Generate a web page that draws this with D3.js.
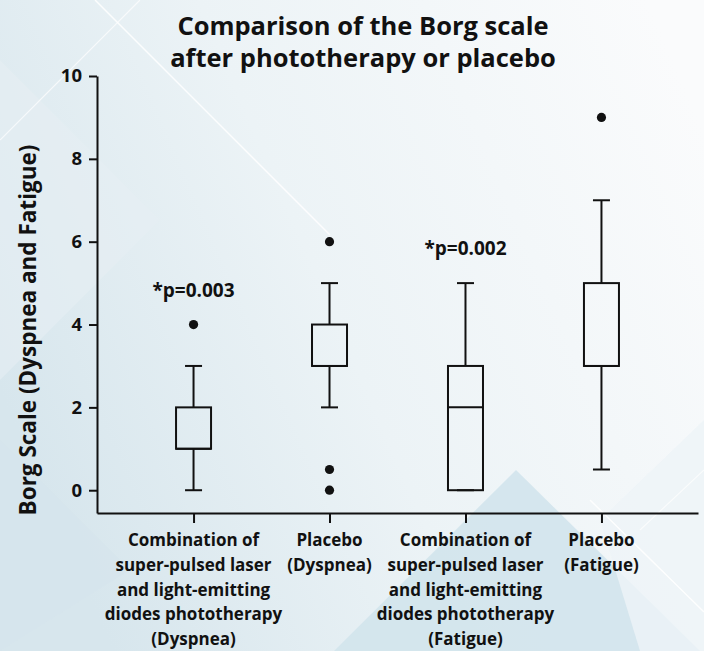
<!DOCTYPE html>
<html>
<head>
<meta charset="utf-8">
<script src="https://cdn.jsdelivr.net/npm/d3@7"></script>
<style>
  html, body { margin: 0; padding: 0; background: #f4f8fa; }
  svg { display: block; }
  text { font-family: "Open Sans", "Noto Sans", sans-serif; font-weight: 700; fill: #111; }
</style>
</head>
<body>
<svg id="chart" width="704" height="651"></svg>
<script>
// Group labels, one array of lines per group
const groupLabels = [
  ["Combination of", "super-pulsed laser", "and light-emitting", "diodes phototherapy", "(Dyspnea)"],
  ["Placebo", "(Dyspnea)"],
  ["Combination of", "super-pulsed laser", "and light-emitting", "diodes phototherapy", "(Fatigue)"],
  ["Placebo", "(Fatigue)"]
];
const groupKeys = ["laserDyspnea", "placeboDyspnea", "laserFatigue", "placeboFatigue"];

// Box-plot statistics per group
const whiskerLow  = [0, 2, 0, 0.5];
const q1          = [1, 3, 0, 3];
const median      = [1, 3, 2, 3];
const q3          = [2, 4, 3, 5];
const whiskerHigh = [3, 5, 5, 7];
const outliers    = [[4], [6, 0.5, 0], [], [9]];

// Significance annotations
const pLabels = ["*p=0.003", "", "*p=0.002", ""];

const yTicks = [0, 2, 4, 6, 8, 10];
const titleLines = ["Comparison of the Borg scale", "after phototherapy or placebo"];
const yTitle = "Borg Scale (Dyspnea and Fatigue)";

const svg = d3.select("#chart");
const W = 704, H = 651;

// ---- background ----
const defs = svg.append("defs");
const grad = defs.append("linearGradient").attr("id", "bg")
  .attr("x1", "0").attr("y1", "0.6").attr("x2", "1").attr("y2", "0.2");
grad.append("stop").attr("offset", "0").attr("stop-color", "#d7e6ed");
grad.append("stop").attr("offset", "0.45").attr("stop-color", "#ecf3f6");
grad.append("stop").attr("offset", "1").attr("stop-color", "#fafbfc");
svg.append("rect").attr("width", W).attr("height", H).attr("fill", "url(#bg)");

const deco = svg.append("g");
deco.append("polygon").attr("points", "0,60 160,220 0,380").attr("fill", "#e6eff3").attr("opacity", 0.6);
deco.append("polygon").attr("points", "516,470 704,655 330,655").attr("fill", "#d2e4ec").attr("opacity", 0.9);
deco.append("polygon").attr("points", "0,440 130,570 0,651").attr("fill", "#d6e5ec").attr("opacity", 0.6);
deco.append("polygon").attr("points", "600,520 704,420 704,651 640,651").attr("fill", "#eef4f7").attr("opacity", 0.8);
deco.append("line").attr("x1", 95).attr("y1", 0).attr("x2", 330).attr("y2", 235)
  .attr("stroke", "#ffffff").attr("stroke-width", 1.5).attr("opacity", 0.9);
deco.append("line").attr("x1", 0).attr("y1", 140).attr("x2", 140).attr("y2", 0)
  .attr("stroke", "#ffffff").attr("stroke-width", 1.2).attr("opacity", 0.7);
deco.append("line").attr("x1", 590).attr("y1", 500).attr("x2", 704).attr("y2", 612)
  .attr("stroke", "#ffffff").attr("stroke-width", 1.5).attr("opacity", 0.9);
deco.append("line").attr("x1", 640).attr("y1", 530).attr("x2", 704).attr("y2", 470)
  .attr("stroke", "#ffffff").attr("stroke-width", 1.2).attr("opacity", 0.7);

// ---- scales ----
const x = d3.scalePoint().domain(groupKeys).range([97, 698]).padding(0.71);
const y = d3.scaleLinear().domain([-0.55, 10]).range([513, 76]);

const boxW = 35, capW = 17;

// ---- axes ----
const yAxis = svg.append("g").attr("transform", "translate(97,0)")
  .call(d3.axisLeft(y).tickValues(yTicks).tickSize(8).tickSizeOuter(0).tickPadding(7).tickFormat(d3.format("d")));
yAxis.selectAll("path, line").attr("stroke", "#111").attr("stroke-width", 2);
yAxis.selectAll("text").attr("font-size", 18.5).attr("font-family", null).attr("fill", "#111");

const xAxis = svg.append("g").attr("transform", "translate(0,513)")
  .call(d3.axisBottom(x).tickSize(10).tickSizeOuter(0).tickFormat(""));
xAxis.selectAll("path, line").attr("stroke", "#111").attr("stroke-width", 2);

// multi-line category labels
const labels = svg.append("g");
groupKeys.forEach((k, i) => {
  const t = labels.append("text").attr("text-anchor", "middle").attr("font-size", 17)
    .attr("x", x(k)).attr("y", 546);
  groupLabels[i].forEach((line, j) => {
    t.append("tspan").attr("x", x(k)).attr("dy", j === 0 ? 0 : 24.8).text(line);
  });
});

// ---- boxes ----
const g = svg.append("g").attr("stroke", "#111").attr("stroke-width", 2).attr("fill", "none");
groupKeys.forEach((k, i) => {
  const cx = x(k);
  // whiskers
  g.append("line").attr("x1", cx).attr("x2", cx).attr("y1", y(q3[i])).attr("y2", y(whiskerHigh[i]));
  g.append("line").attr("x1", cx).attr("x2", cx).attr("y1", y(q1[i])).attr("y2", y(whiskerLow[i]));
  g.append("line").attr("x1", cx - capW / 2).attr("x2", cx + capW / 2)
    .attr("y1", y(whiskerHigh[i])).attr("y2", y(whiskerHigh[i]));
  g.append("line").attr("x1", cx - capW / 2).attr("x2", cx + capW / 2)
    .attr("y1", y(whiskerLow[i])).attr("y2", y(whiskerLow[i]));
  // box
  g.append("rect").attr("x", cx - boxW / 2).attr("width", boxW)
    .attr("y", y(q3[i])).attr("height", y(q1[i]) - y(q3[i]));
  // median
  g.append("line").attr("x1", cx - boxW / 2).attr("x2", cx + boxW / 2)
    .attr("y1", y(median[i])).attr("y2", y(median[i]));
  // outliers
  outliers[i].forEach(v => {
    svg.append("circle").attr("cx", cx).attr("cy", y(v)).attr("r", 4.6).attr("fill", "#111");
  });
  // significance label above the highest mark
  if (pLabels[i]) {
    const top = d3.max([whiskerHigh[i], ...outliers[i]]);
    svg.append("text").attr("text-anchor", "middle").attr("font-size", 19)
      .attr("x", cx).attr("y", y(top) - 28).text(pLabels[i]);
  }
});

// ---- titles ----
const title = svg.append("text").attr("text-anchor", "middle").attr("font-size", 25.5);
titleLines.forEach((line, j) => {
  title.append("tspan").attr("x", 363).attr("y", 35 + j * 32).text(line);
});

svg.append("text").attr("text-anchor", "middle").attr("font-size", 22.5)
  .attr("transform", "translate(36,330) rotate(-90)").text(yTitle);
</script>
</body>
</html>
